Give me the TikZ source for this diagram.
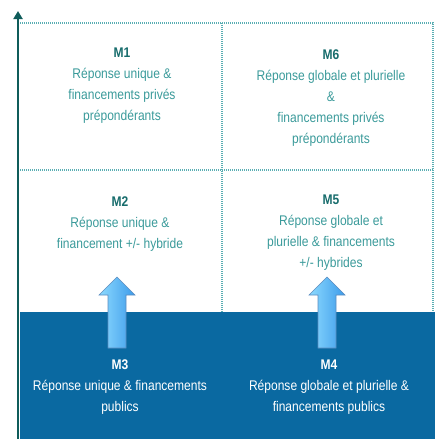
\documentclass[tikz,border=0pt]{standalone}
\usepackage{fontspec}
\setmainfont{Liberation Sans}[FakeStretch=0.86]
\usepackage{xcolor}
\usetikzlibrary{arrows.meta,positioning}

\definecolor{bandblue}{HTML}{0A69A1}
\definecolor{txtteal}{HTML}{3A9A9A}
\definecolor{headteal}{HTML}{176C6C}
\definecolor{gridteal}{HTML}{5AAEB3}
\definecolor{axisteal}{HTML}{0F5C5A}
\definecolor{arrowlight}{HTML}{8CDAFF}
\definecolor{arrowdark}{HTML}{3D9BEA}
\definecolor{arrowedge}{HTML}{5B8CBF}

\begin{document}
\begin{tikzpicture}[x=1pt,y=-1pt,
    lbl/.style={align=center,text=txtteal,font=\fontsize{14}{21}\selectfont},
    lblband/.style={lbl,text=white},
    grid/.style={draw=gridteal,line width=1.3pt,dash pattern=on 1pt off 1pt},
    uparrow/.style={draw=arrowedge,line width=0.6pt,left color=arrowlight,right color=arrowdark}]
  \useasboundingbox (0,0) rectangle (435,439);
  % bottom band
  \fill[bandblue] (20,312) rectangle (435,439);
  % dotted grid
  \draw[grid] (20,23) -- (433,23) -- (433,312);
  \draw[grid] (20,170) -- (433,170);
  \draw[grid] (222,23) -- (222,312);
  % axis
  \coordinate (origin) at (18,439);
  \coordinate (top) at (18,11);
  \draw[axisteal,line width=2.6pt,-{Triangle[length=8pt,width=9pt]}] (origin) -- (top);
  % block arrows
  \coordinate (a3) at (117,348);
  \coordinate (a4) at (327,348);
  \foreach \c in {a3,a4}
    \path[uparrow] (\c) ++(-9,0) -- ++(0,-53) -- ++(-9,0) -- ++(18,-18)
      -- ++(18,18) -- ++(-9,0) -- ++(0,53) -- cycle;
  % labels
  \node[lbl] (m1) at (122,86) {\textcolor{headteal}{\textbf{M1}}\\Réponse unique \&\\financements privés\\prépondérants};
  \node[lbl] (m6) at (331,98) {\textcolor{headteal}{\textbf{M6}}\\Réponse globale et plurielle\\\&\\financements privés\\prépondérants};
  \node[lbl] (m2) at (120,224) {\textcolor{headteal}{\textbf{M2}}\\Réponse unique \&\\financement +/- hybride};
  \node[lbl] (m5) at (331,233) {\textcolor{headteal}{\textbf{M5}}\\Réponse globale et\\plurielle \& financements\\+/- hybrides};
  \node[lblband] (m3) at (120,387) {\textbf{M3}\\Réponse unique \& financements\\publics};
  \node[lblband] (m4) at (329,387) {\textbf{M4}\\Réponse globale et plurielle \&\\financements publics};
\end{tikzpicture}
\end{document}
